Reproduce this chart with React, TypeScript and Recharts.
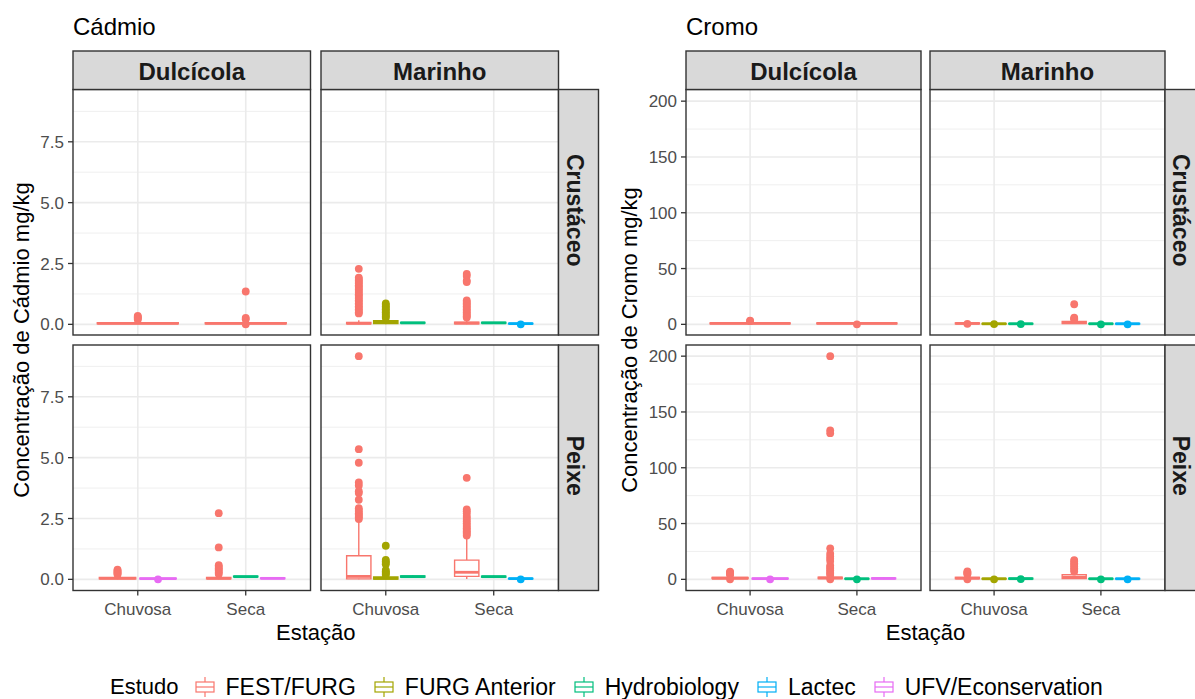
import React from 'react';
import {
  CartesianGrid,
  ComposedChart,
  ReferenceArea,
  ReferenceLine,
  Scatter,
  XAxis,
  YAxis,
} from 'recharts';

const STUDIES = ['FEST/FURG', 'FURG Anterior', 'Hydrobiology', 'Lactec', 'UFV/Econservation'];
const STUDY_COLORS = ['#F8766D', '#A3A500', '#00BF7D', '#00B0F6', '#E76BF3'];
const SEASONS = ['Chuvosa', 'Seca'];
const HABITATS = ['Dulcícola', 'Marinho'];
const TAXA = ['Crustáceo', 'Peixe'];

const CD_TICKS = [0, 2.5, 5, 7.5];
const CD_MINOR = [1.25, 3.75, 6.25, 8.75];
const CR_TICKS = [0, 50, 100, 150, 200];
const CR_MINOR = [25, 75, 125, 175];

// habitat, taxon, season, study, whisker low, q1, median, q3, whisker high
type Box = [string, string, string, string, number, number, number, number, number];
// habitat, taxon, season, study, outlier values
type Out = [string, string, string, string, number[]];

const CD_BOXES: Box[] = [
  ['Dulcícola', 'Crustáceo', 'Chuvosa', 'FEST/FURG', 0.0, 0.02, 0.04, 0.07, 0.15],
  ['Dulcícola', 'Crustáceo', 'Seca', 'FEST/FURG', 0.0, 0.02, 0.04, 0.07, 0.14],
  ['Marinho', 'Crustáceo', 'Chuvosa', 'FEST/FURG', 0.0, 0.02, 0.04, 0.08, 0.17],
  ['Marinho', 'Crustáceo', 'Chuvosa', 'FURG Anterior', 0.0, 0.03, 0.08, 0.15, 0.22],
  ['Marinho', 'Crustáceo', 'Chuvosa', 'Hydrobiology', 0.03, 0.05, 0.06, 0.08, 0.1],
  ['Marinho', 'Crustáceo', 'Seca', 'FEST/FURG', 0.0, 0.02, 0.05, 0.09, 0.18],
  ['Marinho', 'Crustáceo', 'Seca', 'Hydrobiology', 0.03, 0.05, 0.06, 0.08, 0.1],
  ['Marinho', 'Crustáceo', 'Seca', 'Lactec', 0.01, 0.02, 0.03, 0.04, 0.05],
  ['Dulcícola', 'Peixe', 'Chuvosa', 'FEST/FURG', 0.0, 0.02, 0.04, 0.08, 0.14],
  ['Dulcícola', 'Peixe', 'Chuvosa', 'UFV/Econservation', 0.01, 0.02, 0.03, 0.05, 0.07],
  ['Dulcícola', 'Peixe', 'Seca', 'FEST/FURG', 0.0, 0.02, 0.04, 0.08, 0.15],
  ['Dulcícola', 'Peixe', 'Seca', 'Hydrobiology', 0.08, 0.1, 0.11, 0.13, 0.14],
  ['Dulcícola', 'Peixe', 'Seca', 'UFV/Econservation', 0.01, 0.03, 0.04, 0.06, 0.08],
  ['Marinho', 'Peixe', 'Chuvosa', 'FEST/FURG', 0.0, 0.02, 0.12, 0.97, 2.4],
  ['Marinho', 'Peixe', 'Chuvosa', 'FURG Anterior', 0.0, 0.01, 0.04, 0.1, 0.14],
  ['Marinho', 'Peixe', 'Chuvosa', 'Hydrobiology', 0.07, 0.09, 0.11, 0.14, 0.16],
  ['Marinho', 'Peixe', 'Seca', 'FEST/FURG', 0.01, 0.12, 0.29, 0.79, 1.75],
  ['Marinho', 'Peixe', 'Seca', 'Hydrobiology', 0.07, 0.09, 0.11, 0.13, 0.15],
  ['Marinho', 'Peixe', 'Seca', 'Lactec', 0.01, 0.02, 0.03, 0.04, 0.06],
];

const CD_OUTLIERS: Out[] = [
  ['Dulcícola', 'Crustáceo', 'Chuvosa', 'FEST/FURG', [0.35, 0.31, 0.28, 0.24, 0.2]],
  ['Dulcícola', 'Crustáceo', 'Seca', 'FEST/FURG', [1.35, 0.26, 0.21, 0.0]],
  ['Marinho', 'Crustáceo', 'Chuvosa', 'FEST/FURG', [2.28, 1.92, 1.86, 1.8, 1.74, 1.68, 1.61, 1.55, 1.49, 1.43, 1.37, 1.3, 1.24, 1.18, 1.12, 1.05, 0.99, 0.93, 0.87, 0.8, 0.74, 0.68, 0.62, 0.56, 0.5, 0.45]],
  ['Marinho', 'Crustáceo', 'Chuvosa', 'FURG Anterior', [0.86, 0.8, 0.74, 0.68, 0.62, 0.56, 0.5, 0.44, 0.38, 0.32, 0.27]],
  ['Marinho', 'Crustáceo', 'Seca', 'FEST/FURG', [2.07, 1.99, 1.8, 1.74, 0.98, 0.92, 0.86, 0.8, 0.74, 0.68, 0.62, 0.56, 0.5, 0.44, 0.38, 0.33, 0.28]],
  ['Marinho', 'Crustáceo', 'Seca', 'Lactec', [0.0]],
  ['Dulcícola', 'Peixe', 'Chuvosa', 'FEST/FURG', [0.4, 0.36, 0.32, 0.28, 0.24, 0.2]],
  ['Dulcícola', 'Peixe', 'Chuvosa', 'UFV/Econservation', [0.0]],
  ['Dulcícola', 'Peixe', 'Seca', 'FEST/FURG', [2.72, 1.31, 0.58, 0.52, 0.46, 0.4, 0.34, 0.28, 0.22]],
  ['Marinho', 'Peixe', 'Chuvosa', 'FEST/FURG', [9.17, 5.35, 4.79, 3.98, 3.86, 3.62, 3.55, 3.27, 2.92, 2.85, 2.78, 2.72, 2.66, 2.6, 2.54, 2.48]],
  ['Marinho', 'Peixe', 'Chuvosa', 'FURG Anterior', [1.38, 0.8, 0.74, 0.68, 0.62, 0.38, 0.33, 0.28, 0.23, 0.18]],
  ['Marinho', 'Peixe', 'Seca', 'FEST/FURG', [4.17, 2.87, 2.8, 2.72, 2.6, 2.53, 2.45, 2.38, 2.3, 2.23, 2.16, 2.1, 2.04, 1.98, 1.92, 1.86, 1.8]],
  ['Marinho', 'Peixe', 'Seca', 'Lactec', [0.0]],
];

const CR_BOXES: Box[] = [
  ['Dulcícola', 'Crustáceo', 'Chuvosa', 'FEST/FURG', 0.1, 0.4, 0.8, 1.3, 2.0],
  ['Dulcícola', 'Crustáceo', 'Seca', 'FEST/FURG', 0.2, 0.5, 0.8, 1.2, 1.8],
  ['Marinho', 'Crustáceo', 'Chuvosa', 'FEST/FURG', 0.1, 0.4, 0.8, 1.3, 2.0],
  ['Marinho', 'Crustáceo', 'Chuvosa', 'FURG Anterior', 0.1, 0.3, 0.5, 0.8, 1.2],
  ['Marinho', 'Crustáceo', 'Chuvosa', 'Hydrobiology', 0.1, 0.3, 0.5, 0.8, 1.2],
  ['Marinho', 'Crustáceo', 'Seca', 'FEST/FURG', 0.3, 0.8, 1.5, 2.5, 3.5],
  ['Marinho', 'Crustáceo', 'Seca', 'Hydrobiology', 0.1, 0.3, 0.5, 0.8, 1.2],
  ['Marinho', 'Crustáceo', 'Seca', 'Lactec', 0.1, 0.3, 0.5, 0.8, 1.2],
  ['Dulcícola', 'Peixe', 'Chuvosa', 'FEST/FURG', 0.2, 0.6, 1.0, 1.6, 2.5],
  ['Dulcícola', 'Peixe', 'Chuvosa', 'UFV/Econservation', 0.1, 0.4, 0.7, 1.1, 1.6],
  ['Dulcícola', 'Peixe', 'Seca', 'FEST/FURG', 0.2, 0.6, 1.2, 2.0, 3.0],
  ['Dulcícola', 'Peixe', 'Seca', 'Hydrobiology', 0.1, 0.3, 0.5, 0.8, 1.2],
  ['Dulcícola', 'Peixe', 'Seca', 'UFV/Econservation', 0.2, 0.5, 0.8, 1.2, 1.8],
  ['Marinho', 'Peixe', 'Chuvosa', 'FEST/FURG', 0.2, 0.6, 1.0, 1.8, 2.8],
  ['Marinho', 'Peixe', 'Chuvosa', 'FURG Anterior', 0.1, 0.3, 0.5, 0.8, 1.2],
  ['Marinho', 'Peixe', 'Chuvosa', 'Hydrobiology', 0.1, 0.3, 0.6, 1.0, 1.4],
  ['Marinho', 'Peixe', 'Seca', 'FEST/FURG', 0.3, 0.8, 2.0, 4.2, 5.0],
  ['Marinho', 'Peixe', 'Seca', 'Hydrobiology', 0.1, 0.3, 0.5, 0.8, 1.2],
  ['Marinho', 'Peixe', 'Seca', 'Lactec', 0.1, 0.3, 0.5, 0.8, 1.2],
];

const CR_OUTLIERS: Out[] = [
  ['Dulcícola', 'Crustáceo', 'Chuvosa', 'FEST/FURG', [3.4, 2.8]],
  ['Dulcícola', 'Crustáceo', 'Seca', 'FEST/FURG', [0.0]],
  ['Marinho', 'Crustáceo', 'Chuvosa', 'FEST/FURG', [0.5]],
  ['Marinho', 'Crustáceo', 'Chuvosa', 'FURG Anterior', [0.2]],
  ['Marinho', 'Crustáceo', 'Chuvosa', 'Hydrobiology', [0.2]],
  ['Marinho', 'Crustáceo', 'Seca', 'FEST/FURG', [18.0, 6.0, 5.2, 4.5]],
  ['Marinho', 'Crustáceo', 'Seca', 'Hydrobiology', [0.0]],
  ['Marinho', 'Crustáceo', 'Seca', 'Lactec', [0.0]],
  ['Dulcícola', 'Peixe', 'Chuvosa', 'FEST/FURG', [7.0, 6.2, 5.5, 4.8, 4.1, 0.0]],
  ['Dulcícola', 'Peixe', 'Chuvosa', 'UFV/Econservation', [0.0]],
  ['Dulcícola', 'Peixe', 'Seca', 'FEST/FURG', [200, 133.5, 131, 27.8, 23, 20.5, 18.5, 16.5, 12.5, 11, 9.5, 8, 6.5, 5, 4, 0]],
  ['Dulcícola', 'Peixe', 'Seca', 'Hydrobiology', [0.0]],
  ['Marinho', 'Peixe', 'Chuvosa', 'FEST/FURG', [7.2, 6.3, 5.4, 4.5, 0.0]],
  ['Marinho', 'Peixe', 'Chuvosa', 'FURG Anterior', [0.0]],
  ['Marinho', 'Peixe', 'Chuvosa', 'Hydrobiology', [0.2]],
  ['Marinho', 'Peixe', 'Seca', 'FEST/FURG', [17.3, 16.0, 14.5, 13.0, 11.5, 10.0, 8.5, 7.0]],
  ['Marinho', 'Peixe', 'Seca', 'Hydrobiology', [0.0]],
  ['Marinho', 'Peixe', 'Seca', 'Lactec', [0.0]],
];

const FONT = '"Liberation Sans", Arial, Helvetica, sans-serif';
const GRID = '#EBEBEB';
const DARK = '#333333';

const ROW_Y = [89.5, 345];
const ROW_H = 245.5;
const STRIP_TOP = 51;
const STRIP_W = 40;

const PLOTS = [
  {
    title: 'Cádmio',
    yTitle: 'Concentração de Cádmio mg/kg',
    boxes: CD_BOXES,
    outliers: CD_OUTLIERS,
    ticks: CD_TICKS,
    minor: CD_MINOR,
    fmt: (v: number) => v.toFixed(1),
    panelX: [73, 321],
    panelW: 237.5,
    yAxisW: 73,
    yTitleX: 29,
  },
  {
    title: 'Cromo',
    yTitle: 'Concentração de Cromo mg/kg',
    boxes: CR_BOXES,
    outliers: CR_OUTLIERS,
    ticks: CR_TICKS,
    minor: CR_MINOR,
    fmt: (v: number) => String(v),
    panelX: [686, 930],
    panelW: 235,
    yAxisW: 60,
    yTitleX: 637,
  },
];

// ggplot-like domain: data range plus 5% on each side
function yDomain(boxes: Box[], outliers: Out[]): [number, number] {
  const vals: number[] = [];
  boxes.forEach((b) => vals.push(b[4], b[8]));
  outliers.forEach((o) => vals.push(...o[4]));
  const lo = Math.min(0, ...vals);
  const hi = Math.max(...vals);
  const pad = (hi - lo) * 0.05;
  return [lo - pad, hi + pad];
}

// dodge boxes within each season like position_dodge2
function facetItems(boxes: Box[], outliers: Out[], hab: string, tax: string) {
  const items: any[] = [];
  SEASONS.forEach((season, si) => {
    const present = boxes
      .filter((b) => b[0] === hab && b[1] === tax && b[2] === season)
      .sort((a, b) => STUDIES.indexOf(a[3]) - STUDIES.indexOf(b[3]));
    const n = present.length;
    present.forEach((b, i) => {
      const slot = 0.75 / n;
      const cx = si + 1 - 0.375 + slot * (i + 0.5);
      const w = n > 1 ? slot * 0.9 : 0.75;
      const out = outliers.find((o) => o[0] === hab && o[1] === tax && o[2] === season && o[3] === b[3]);
      items.push({
        color: STUDY_COLORS[STUDIES.indexOf(b[3])],
        cx,
        x1: cx - w / 2,
        x2: cx + w / 2,
        low: b[4],
        q1: b[5],
        med: b[6],
        q3: b[7],
        high: b[8],
        pts: (out ? out[4] : []).map((v) => ({ x: cx, y: v })),
      });
    });
  });
  return items;
}

function Facet({ plot, row, col }: { plot: any; row: number; col: number }) {
  const showY = col === 0;
  const showX = row === 1;
  const domain = yDomain(plot.boxes, plot.outliers);
  const items = facetItems(plot.boxes, plot.outliers, HABITATS[col], TAXA[row]);
  const left = plot.panelX[col] - (showY ? plot.yAxisW : 0);
  const width = plot.panelW + (showY ? plot.yAxisW : 0);
  const height = ROW_H + (showX ? 40 : 0);

  const marks: any[] = [];
  items.forEach((b, i) => {
    marks.push(
      <ReferenceLine key={`wl${i}`} segment={[{ x: b.cx, y: b.low }, { x: b.cx, y: b.q1 }]} stroke={b.color} strokeWidth={1.4} ifOverflow="visible" />,
      <ReferenceLine key={`wh${i}`} segment={[{ x: b.cx, y: b.q3 }, { x: b.cx, y: b.high }]} stroke={b.color} strokeWidth={1.4} ifOverflow="visible" />,
      <ReferenceArea key={`bx${i}`} x1={b.x1} x2={b.x2} y1={b.q1} y2={b.q3} fill="#FFFFFF" fillOpacity={1} stroke={b.color} strokeWidth={1.4} ifOverflow="visible" />,
      <ReferenceLine key={`md${i}`} segment={[{ x: b.x1, y: b.med }, { x: b.x2, y: b.med }]} stroke={b.color} strokeWidth={2.8} ifOverflow="visible" />,
    );
  });
  items.forEach((b, i) => {
    if (b.pts.length === 0) return;
    marks.push(
      <Scatter
        key={`pt${i}`}
        data={b.pts}
        isAnimationActive={false}
        shape={(p: any) => <circle cx={p.cx} cy={p.cy} r={3.9} fill={b.color} />}
      />,
    );
  });

  return (
    <div style={{ position: 'absolute', left, top: ROW_Y[row] }}>
      <ComposedChart width={width} height={height} margin={{ top: 0, right: 0, bottom: 0, left: 0 }}>
        <CartesianGrid horizontalValues={plot.minor} vertical={false} stroke={GRID} strokeWidth={0.8} />
        <CartesianGrid horizontalValues={plot.ticks} verticalValues={[1, 2]} stroke={GRID} strokeWidth={1.6} />
        <XAxis
          type="number"
          dataKey="x"
          domain={[0.4, 2.6]}
          ticks={[1, 2]}
          interval={0}
          allowDataOverflow
          hide={!showX}
          height={40}
          tickFormatter={(v: number) => SEASONS[v - 1]}
          tickSize={5}
          tickMargin={7}
          axisLine={false}
          tickLine={{ stroke: DARK, strokeWidth: 1.3 }}
          tick={{ fontSize: 17, fill: '#4D4D4D', fontFamily: FONT }}
        />
        <YAxis
          type="number"
          dataKey="y"
          domain={domain}
          ticks={plot.ticks}
          interval={0}
          allowDataOverflow
          hide={!showY}
          width={plot.yAxisW}
          tickFormatter={plot.fmt}
          tickSize={5}
          tickMargin={4}
          axisLine={false}
          tickLine={{ stroke: DARK, strokeWidth: 1.3 }}
          tick={{ fontSize: 17, fill: '#4D4D4D', fontFamily: FONT }}
        />
        {marks}
      </ComposedChart>
    </div>
  );
}

function LegendKey({ color }: { color: string }) {
  return (
    <svg width={22} height={22} style={{ display: 'block' }}>
      <line x1={11} x2={11} y1={1} y2={21} stroke={color} strokeWidth={1.2} />
      <rect x={2} y={6} width={18} height={10} fill="#FFFFFF" stroke={color} strokeWidth={1.2} />
      <line x1={2} x2={20} y1={11} y2={11} stroke={color} strokeWidth={1.2} />
    </svg>
  );
}

export default function App() {
  return (
    <div style={{ position: 'absolute', left: 0, top: 0, width: 1195, height: 699, background: '#FFFFFF', fontFamily: FONT, overflow: 'hidden' }}>
      {PLOTS.map((plot, pi) =>
        [0, 1].map((row) => [0, 1].map((col) => <Facet key={`${pi}-${row}-${col}`} plot={plot} row={row} col={col} />)),
      )}
      <svg width={1195} height={699} style={{ position: 'absolute', left: 0, top: 0, pointerEvents: 'none' }} fontFamily={FONT}>
        {PLOTS.map((plot, pi) => {
          const right = plot.panelX[1] + plot.panelW;
          const midX = (plot.panelX[0] + right) / 2;
          const midY = ROW_Y[0] + (ROW_Y[1] + ROW_H - ROW_Y[0]) / 2;
          return (
            <g key={pi}>
              <text x={plot.panelX[0]} y={35} fontSize={24} fill="#000000">{plot.title}</text>
              {[0, 1].map((row) =>
                [0, 1].map((col) => (
                  <rect key={`p${row}${col}`} x={plot.panelX[col]} y={ROW_Y[row]} width={plot.panelW} height={ROW_H} fill="none" stroke={DARK} strokeWidth={1.4} />
                )),
              )}
              {HABITATS.map((h, col) => (
                <g key={h}>
                  <rect x={plot.panelX[col]} y={STRIP_TOP} width={plot.panelW} height={ROW_Y[0] - STRIP_TOP} fill="#D9D9D9" stroke={DARK} strokeWidth={1.4} />
                  <text x={plot.panelX[col] + plot.panelW / 2} y={79.5} fontSize={24} fontWeight="bold" fill="#1A1A1A" textAnchor="middle">{h}</text>
                </g>
              ))}
              {TAXA.map((t, row) => {
                const cy = ROW_Y[row] + ROW_H / 2 - 2;
                const cx = right + STRIP_W / 2 - 3.5;
                return (
                  <g key={t}>
                    <rect x={right} y={ROW_Y[row]} width={STRIP_W} height={ROW_H} fill="#D9D9D9" stroke={DARK} strokeWidth={1.4} />
                    <text x={cx} y={cy} dy="0.36em" fontSize={23} fontWeight="bold" fill="#1A1A1A" textAnchor="middle" transform={`rotate(90 ${cx} ${cy})`}>{t}</text>
                  </g>
                );
              })}
              <text x={plot.yTitleX} y={midY} fontSize={22} fill="#000000" textAnchor="middle" transform={`rotate(-90 ${plot.yTitleX} ${midY})`}>{plot.yTitle}</text>
              <text x={midX} y={640} fontSize={22} fill="#000000" textAnchor="middle">Estação</text>
            </g>
          );
        })}
      </svg>
      <div style={{ position: 'absolute', left: 110, top: 676, height: 22, display: 'flex', alignItems: 'center', fontSize: 22, lineHeight: '22px', color: '#000000', whiteSpace: 'nowrap' }}>
        <span style={{ marginRight: 15 }}>Estudo</span>
        {STUDIES.map((s, i) => (
          <div key={s} style={{ display: 'flex', alignItems: 'center', marginRight: 17 }}>
            <LegendKey color={STUDY_COLORS[i]} />
            <span style={{ marginLeft: 10, fontSize: 23 }}>{s}</span>
          </div>
        ))}
      </div>
    </div>
  );
}
